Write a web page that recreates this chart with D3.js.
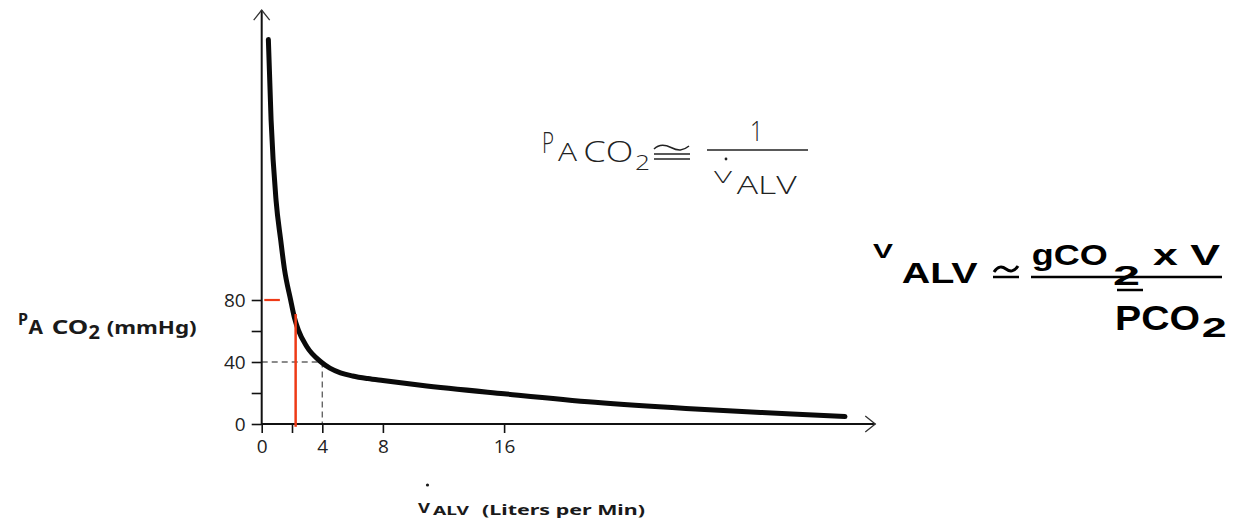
<!DOCTYPE html>
<html>
<head>
<meta charset="utf-8">
<script src="https://cdnjs.cloudflare.com/ajax/libs/d3/7.8.5/d3.min.js"></script>
<style>
  body { margin: 0; background: #fff; }
  .tick line { stroke: #111; stroke-width: 1.6; }
  .tick text { font-family: "Open Sans", "Noto Sans", sans-serif; fill: #222; }
  .lab { font-family: "Noto Sans", "DejaVu Sans", sans-serif; font-weight: bold; fill: #1a1a1a; }
  .light { font-family: "Open Sans", "Noto Sans", sans-serif; font-weight: 300; fill: #222; }
  .arial { font-family: "Liberation Sans", Arial, sans-serif; font-weight: bold; fill: #000; }
</style>
</head>
<body>
<div id="chart"></div>
<script>
// Data
var ventRate = [0.44, 0.62, 0.95, 1.25, 1.5, 1.91, 2.15, 2.42, 2.97, 3.92, 4.5, 5.2, 6, 7, 8, 10.5, 16, 22, 28, 35, 38.5];
var paco2 = [248, 196, 144, 119, 100, 80, 69, 60.6, 50, 40, 36, 33, 31, 29.3, 28, 25, 19.5, 14, 10, 6.5, 4.8];

var xTickValues = [0, 2, 4, 8, 16];
var xTickLabels = ["0", "", "4", "8", "16"];
var yTickValues = [0, 20, 40, 60, 80];
var yTickLabels = ["0", "", "40", "", "80"];

// normal point (dashed guide) and red markers
var normalVent = [4];
var normalPco2 = [40];
var redVent = [2.24];
var redPco2Top = [71];
var redHLevel = [80];
var redHFrom = [0.17];
var redHTo = [1.2];

var axisMaxX = 40.5;
var axisMaxY = 267;

var svgWidth = 1236;
var svgHeight = 520;

var svg = d3.select("#chart")
  .append("svg")
  .attr("width", svgWidth)
  .attr("height", svgHeight);

// small helper: one piece of text squeezed/stretched to the width seen in the picture
function addText(str, x, y, size, width, cls) {
  return svg.append("text")
    .attr("class", cls)
    .attr("x", x)
    .attr("y", y)
    .attr("textLength", width)
    .attr("lengthAdjust", "spacingAndGlyphs")
    .style("font-size", size + "px")
    .text(str);
}

// Step 1: scales
var xScale = d3.scaleLinear().domain([0, 40]).range([261.7, 261.7 + 15.15 * 40]);
var yScale = d3.scaleLinear().domain([0, 80]).range([424, 300]);

// Step 2: axes (domain lines drawn by hand because of the arrows)
var bottomAxis = d3.axisBottom(xScale)
  .tickValues(xTickValues)
  .tickSize(9)
  .tickPadding(7)
  .tickFormat(function(d, i) { return xTickLabels[i]; });

var leftAxis = d3.axisLeft(yScale)
  .tickValues(yTickValues)
  .tickSize(10)
  .tickPadding(6)
  .tickFormat(function(d, i) { return yTickLabels[i]; });

var xAxisG = svg.append("g")
  .attr("transform", `translate(0, ${yScale(0)})`)
  .style("font-size", "19px")
  .call(bottomAxis);
xAxisG.select(".domain").remove();

var yAxisG = svg.append("g")
  .attr("transform", `translate(${xScale(0)}, 0)`)
  .style("font-size", "19px")
  .call(leftAxis);
yAxisG.select(".domain").remove();

// dashed guides to the normal point
svg.append("path")
  .attr("d", d3.line()([
    [xScale(0), yScale(normalPco2[0])],
    [xScale(normalVent[0]), yScale(normalPco2[0])],
    [xScale(normalVent[0]), yScale(0)]
  ]))
  .attr("fill", "none")
  .attr("stroke", "#666")
  .attr("stroke-width", 1.4)
  .attr("stroke-dasharray", "6,4");

// axis lines with open arrow heads
svg.append("line")
  .attr("x1", xScale(0)).attr("y1", yScale(0))
  .attr("x2", xScale(axisMaxX)).attr("y2", yScale(0))
  .attr("stroke", "#111").attr("stroke-width", 2);
svg.append("path")
  .attr("d", `M${xScale(axisMaxX) - 10},${yScale(0) - 8} L${xScale(axisMaxX)},${yScale(0)} L${xScale(axisMaxX) - 10},${yScale(0) + 8}`)
  .attr("fill", "none").attr("stroke", "#333").attr("stroke-width", 1.3);

svg.append("line")
  .attr("x1", xScale(0)).attr("y1", yScale(0) + 1)
  .attr("x2", xScale(0)).attr("y2", yScale(axisMaxY))
  .attr("stroke", "#111").attr("stroke-width", 2);
svg.append("path")
  .attr("d", `M${xScale(0) - 8},${yScale(axisMaxY) + 10} L${xScale(0)},${yScale(axisMaxY)} L${xScale(0) + 8},${yScale(axisMaxY) + 10}`)
  .attr("fill", "none").attr("stroke", "#333").attr("stroke-width", 1.3);

// Step 3: curve
var curveData = ventRate.map(function(v, i) { return [v, paco2[i]]; });
var line = d3.line()
  .x(d => xScale(d[0]))
  .y(d => yScale(d[1]))
  .curve(d3.curveMonotoneX);

svg.append("path")
  .datum(curveData)
  .attr("d", line)
  .attr("fill", "none")
  .attr("stroke", "#0a0a0a")
  .attr("stroke-width", 5)
  .attr("stroke-linecap", "round");

// red markers
svg.append("line")
  .attr("x1", xScale(redHFrom[0])).attr("x2", xScale(redHTo[0]))
  .attr("y1", yScale(redHLevel[0])).attr("y2", yScale(redHLevel[0]))
  .attr("stroke", "#ee3a16").attr("stroke-width", 2.2);
svg.append("line")
  .attr("x1", xScale(redVent[0])).attr("x2", xScale(redVent[0]))
  .attr("y1", yScale(redPco2Top[0])).attr("y2", yScale(-1.8))
  .attr("stroke", "#ee3a16").attr("stroke-width", 2.5);

// Step 4: axis labels
addText("P", 18, 325, 16, 10, "lab");
addText("A", 28.5, 334, 19, 14.5, "lab");
addText("CO", 51.7, 334, 19, 36.6, "lab");
addText("2", 88.5, 339, 19, 11.5, "lab");
addText("(mmHg)", 106.7, 334, 18, 90, "lab");

addText("V", 418, 513, 14, 12, "lab");
addText("ALV", 433, 515, 13, 36, "lab");
addText("(Liters per Min)", 482, 515, 14, 163, "lab");
svg.append("circle").attr("cx", 427.5).attr("cy", 485).attr("r", 1.6).attr("fill", "#1a1a1a");

// Step 5: formula in the plot (light font)
addText("P", 542, 153, 29, 12, "light");
addText("A", 558, 161, 26, 19, "light");
addText("CO", 583.3, 161.7, 29, 50, "light");
addText("2", 635, 170, 21, 15, "light");
addText("1", 750, 140.7, 28, 13, "light");
addText("V", 714, 183, 16, 18, "light");
addText("ALV", 736.7, 194, 26, 60, "light");
svg.append("circle").attr("cx", 726).attr("cy", 159).attr("r", 1.4).attr("fill", "#222");
svg.append("line")
  .attr("x1", 707).attr("x2", 808).attr("y1", 150).attr("y2", 150)
  .attr("stroke", "#222").attr("stroke-width", 1.6);
// the "approximately equal" sign: tilde over two bars
svg.append("path")
  .attr("d", "M654,149 C659,144 664,144 671,147.5 C678,151 683,151 689,146")
  .attr("fill", "none").attr("stroke", "#222").attr("stroke-width", 1.5);
svg.append("line").attr("x1", 654).attr("x2", 690).attr("y1", 154).attr("y2", 154)
  .attr("stroke", "#222").attr("stroke-width", 1.5);
svg.append("line").attr("x1", 654).attr("x2", 690).attr("y1", 159).attr("y2", 159)
  .attr("stroke", "#222").attr("stroke-width", 1.5);

// Step 6: formula on the right (Arial-like bold)
addText("V", 873, 258.3, 21, 20, "arial");
addText("ALV", 901.7, 283.3, 30, 76, "arial");
addText("gCO", 1031.7, 265, 30, 76, "arial");
addText("2", 1113, 285, 28, 27, "arial");
addText("x V", 1153, 265, 30, 67, "arial");
addText("PCO", 1115, 330, 35, 85, "arial");
addText("2", 1201.7, 337, 28, 25, "arial");

svg.append("path")
  .attr("d", "M994,272 C998,266 1002,266 1006,269 C1010,272 1014,272 1018,266")
  .attr("fill", "none").attr("stroke", "#000").attr("stroke-width", 3);
svg.append("line").attr("x1", 993).attr("x2", 1019).attr("y1", 277).attr("y2", 277)
  .attr("stroke", "#000").attr("stroke-width", 2.5);
svg.append("line").attr("x1", 1031).attr("x2", 1222).attr("y1", 277).attr("y2", 277)
  .attr("stroke", "#000").attr("stroke-width", 2.5);
svg.append("line").attr("x1", 1117).attr("x2", 1143).attr("y1", 290).attr("y2", 290)
  .attr("stroke", "#000").attr("stroke-width", 2.5);
</script>
</body>
</html>
